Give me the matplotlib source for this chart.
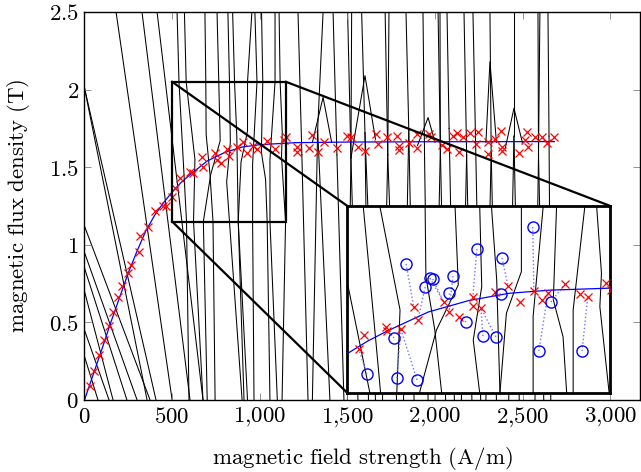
import matplotlib
matplotlib.use("Agg")
import matplotlib.pyplot as plt
from matplotlib.patches import Rectangle

plt.rcParams['mathtext.fontset'] = 'cm'
plt.rcParams['font.family'] = ['DejaVu Serif']

# ---------------- data ----------------
# measured points (red crosses) in the main plot
meas_H = [31, 54, 83, 111, 138, 164, 189, 212, 246, 265, 311, 317, 364, 402, 450, 465, 497, 516, 545,
          602, 621, 674, 669, 745, 758, 777, 815, 826, 868, 903, 929, 963, 986, 1039, 1087, 1138, 1148,
          1211, 1214, 1282, 1300, 1334, 1368, 1439, 1496, 1519, 1562, 1600, 1663, 1676, 1724, 1781, 1796,
          1796, 1853, 1895, 1899, 1967, 1975, 2038, 2066, 2101, 2127, 2138, 2161, 2199, 2234, 2247, 2304,
          2304, 2342, 2376, 2380, 2380, 2481, 2513, 2523, 2532, 2570, 2608, 2640, 2680]
meas_B = [0.090, 0.187, 0.290, 0.387, 0.479, 0.567, 0.666, 0.736, 0.820, 0.870, 0.956, 1.057, 1.117, 1.220,
          1.250, 1.250, 1.310, 1.364, 1.428, 1.471, 1.461, 1.503, 1.568, 1.590, 1.546, 1.525, 1.617, 1.572,
          1.632, 1.664, 1.593, 1.637, 1.617, 1.671, 1.615, 1.675, 1.697, 1.632, 1.600, 1.626, 1.707, 1.600,
          1.664, 1.622, 1.701, 1.693, 1.632, 1.606, 1.714, 1.649, 1.693, 1.701, 1.637, 1.611, 1.654, 1.622,
          1.714, 1.712, 1.693, 1.643, 1.615, 1.701, 1.722, 1.600, 1.693, 1.718, 1.649, 1.729, 1.585, 1.664,
          1.680, 1.733, 1.632, 1.606, 1.593, 1.675, 1.729, 1.628, 1.693, 1.693, 1.658, 1.693]

# fitted curve (blue)
fit_H = [0, 50, 100, 150, 200, 250, 300, 350, 400, 450, 500, 550, 600, 700, 800, 900, 1000, 1200, 1500, 2000, 2680]
fit_B = [0, 0.165, 0.33, 0.50, 0.66, 0.82, 0.96, 1.09, 1.19, 1.27, 1.34, 1.40, 1.45, 1.54, 1.595, 1.63,
         1.645, 1.658, 1.662, 1.664, 1.665]

# straight black lines in the left part (x0, y0, x1, y1)
left_x0 = [180, 328, 414, 0, 0, 0, 0, 0, 0, 0, 0]
left_y0 = [2.5, 2.5, 2.5, 2.01, 2.01, 1.12, 0.95, 0.85, 0.70, 0.45, 0.28]
left_x1 = [500, 602, 676, 357, 408, 374, 300, 242, 163, 140, 77]
left_y1 = [0, 0, 0, 0, 0, 0, 0, 0, 0, 0, 0]

# black polylines through the magnified region (x list, y list)
mid_lines = [
    ([528, 539, 570, 582, 596], [2.5, 2.05, 1.405, 1.15, 0]),
    ([570, 580, 630, 622, 676], [2.5, 2.05, 1.55, 1.15, 0]),
    ([687, 692, 694, 716, 733, 745], [2.5, 2.05, 1.71, 1.453, 1.15, 0]),
    ([756, 766, 774, 720, 678, 700], [2.5, 2.05, 1.67, 1.453, 1.15, 0]),
    ([818, 827, 832, 811, 827, 899], [2.5, 2.05, 1.662, 1.405, 1.15, 0]),
    ([845, 856, 869, 877, 910], [2.5, 2.05, 1.694, 1.15, 0]),
    ([955, 930, 930, 893, 877, 930], [2.5, 2.05, 1.734, 1.534, 1.15, 0]),
    ([972, 984, 959, 959, 967], [2.5, 2.05, 1.518, 1.15, 0]),
    ([1010, 1017, 1009, 1033, 1042, 1058], [2.5, 2.05, 1.598, 1.421, 1.15, 0]),
    ([1087, 1087, 1058, 1058, 1100], [2.5, 2.05, 1.55, 1.15, 0]),
    ([1110, 1116, 1128, 1124, 1147, 1127], [2.5, 2.05, 1.726, 1.566, 1.15, 0]),
]

# band vertices in the right part, with the top and bottom crossings joined to them
rv_x = [1240, 1330, 1440, 1520, 1600, 1730, 1850, 1940, 2030, 2080, 2180, 2230, 2320, 2450, 2590, 2650]
rv_y = [1.58, 1.74, 1.58, 1.56, 1.72, 1.58, 1.74, 1.56, 1.62, 1.75, 1.58, 1.72, 1.60, 1.70, 1.58, 1.70]
rv_tops = [[1218], [1361], [1418], [1501, 1524], [1581], [1715, 1737], [1834], [1931], [2017, 2028],
           [2068], [2165], [2216], [2313], [2450], [2587, 2598], [2644]]
rv_bots = [[1275], [1300, 1400], [1480], [1500, 1560], [1620, 1660], [1700, 1780], [1820, 1880], [1960],
           [2000, 2060], [2110], [2150, 2210], [2260], [2290, 2350], [2420, 2480], [2570, 2620], [2660]]

# peaks above the band (x list, y list)
peak_lines = [
    ([1520, 1600, 1660], [1.56, 2.09, 1.68]),
    ([2290, 2313, 2350], [1.66, 2.18, 1.66]),
    ([2400, 2450, 2500], [1.62, 1.88, 1.65]),
    ([1300, 1361, 1410], [1.66, 1.95, 1.66]),
    ([1900, 1960, 2000], [1.64, 1.82, 1.66]),
]

# magnified view: crosses, circles and their links
ins_cross_x = [541, 528, 595, 598, 632, 664, 674, 738, 751, 776, 810, 810, 830, 865, 897, 926, 961, 981,
               996, 1038, 1075, 1094, 1139, 1151]
ins_cross_y = [1.429, 1.362, 1.468, 1.448, 1.458, 1.564, 1.501, 1.588, 1.540, 1.516, 1.612, 1.569, 1.559,
               1.636, 1.665, 1.588, 1.641, 1.598, 1.631, 1.675, 1.626, 1.612, 1.679, 1.646]
circ_x = [548, 622, 672, 615, 645, 692, 704, 711, 761, 751, 793, 820, 835, 867, 882, 879, 958, 973, 1003, 1080]
circ_y = [1.241, 1.222, 1.213, 1.415, 1.771, 1.660, 1.703, 1.699, 1.713, 1.631, 1.492, 1.843, 1.424, 1.420,
          1.800, 1.626, 1.949, 1.352, 1.588, 1.352]
link_x = [528, 632, 632, 595, 664, 674, 738, 738, 751, 751, 776, 810, 830, 830, 897, 865, 961, 996, 1038, 1094]
link_y = [1.362, 1.458, 1.458, 1.468, 1.564, 1.501, 1.588, 1.588, 1.540, 1.540, 1.516, 1.612, 1.559, 1.559,
          1.665, 1.636, 1.641, 1.631, 1.675, 1.612]

# spy region
spy_x = [500, 1150]
spy_y = [1.15, 2.05]
mag_x = [1500, 3000]
mag_y = [0.045, 1.25]

x_ticks = [0, 500, 1000, 1500, 2000, 2500, 3000]
x_labels = ['0', '500', '1{,}000', '1{,}500', '2{,}000', '2{,}500', '3{,}000']
y_ticks = [0, 0.5, 1, 1.5, 2, 2.5]
y_labels = ['0', '0.5', '1', '1.5', '2', '2.5']

# ---------------- plot ----------------
fig = plt.figure(figsize=(6.41, 4.72), dpi=100)
ax = fig.add_axes([84.5 / 641, 72 / 472, 555.5 / 641, 388 / 472])
ax.set_xlim(0, 3169)
ax.set_ylim(0, 2.5)

lw_thin = 0.75


def draw_black(a):
    for x0, y0, x1, y1 in zip(left_x0, left_y0, left_x1, left_y1):
        a.plot([x0, x1], [y0, y1], color='black', lw=lw_thin, zorder=1)
    for xs, ys in mid_lines + peak_lines:
        a.plot(xs, ys, color='black', lw=lw_thin, zorder=1)
    for vx, vy, tops, bots in zip(rv_x, rv_y, rv_tops, rv_bots):
        for xt in tops:
            a.plot([xt, vx], [2.5, vy], color='black', lw=lw_thin, zorder=1)
        for xb in bots:
            a.plot([vx, xb], [vy, 0], color='black', lw=lw_thin, zorder=1)


draw_black(ax)
ax.plot(fit_H, fit_B, color='blue', lw=0.9, zorder=2)
ax.plot(meas_H, meas_B, linestyle='none', marker='x', color='red', markersize=5.5, mew=0.9, zorder=3)

ax.add_patch(Rectangle((spy_x[0], spy_y[0]), spy_x[1] - spy_x[0], spy_y[1] - spy_y[0],
                       fill=False, ec='black', lw=1.6, zorder=4))
ax.plot([spy_x[0], mag_x[0]], [spy_y[1], mag_y[1]], color='black', lw=1.6, zorder=4, clip_on=False)
ax.plot([spy_x[1], mag_x[1]], [spy_y[1], mag_y[1]], color='black', lw=1.6, zorder=4, clip_on=False)
ax.plot([spy_x[0], mag_x[0]], [spy_y[0], mag_y[0]], color='black', lw=1.6, zorder=4, clip_on=False)

ax.set_xticks(x_ticks)
ax.set_xticklabels(['$' + s + '$' for s in x_labels])
ax.set_yticks(y_ticks)
ax.set_yticklabels(['$' + s + '$' for s in y_labels])
ax.tick_params(direction='in', top=True, right=True, length=5, width=0.6, color='0.5',
               labelsize=16.5, pad=4)
for sp in ax.spines.values():
    sp.set_linewidth(1.0)
ax.set_xlabel(r'$\mathrm{magnetic\ field\ strength\ (A/m)}$', fontsize=16.5, labelpad=11)
ax.set_ylabel(r'$\mathrm{magnetic\ flux\ density\ (T)}$', fontsize=16.5, labelpad=12)

ins = ax.inset_axes([mag_x[0], mag_y[0], mag_x[1] - mag_x[0], mag_y[1] - mag_y[0]],
                    transform=ax.transData, zorder=5)
ins.set_xlim(spy_x)
ins.set_ylim(spy_y)
ins.set_xticks([])
ins.set_yticks([])
for sp in ins.spines.values():
    sp.set_linewidth(2.0)
draw_black(ins)
for cx, cy, lx, ly in zip(circ_x, circ_y, link_x, link_y):
    ins.plot([cx, lx], [cy, ly], color=(0.45, 0.45, 1.0), ls=':', lw=1.0, zorder=2)
ins.plot(fit_H, fit_B, color='blue', lw=0.9, zorder=3)
ins.plot(ins_cross_x, ins_cross_y, linestyle='none', marker='x', color='red', markersize=5.5, mew=0.9, zorder=4)
ins.plot(circ_x, circ_y, linestyle='none', marker='o', mfc='none', mec='blue', markersize=8, mew=1.0, zorder=4)

fig.savefig('out.png', dpi=100)
